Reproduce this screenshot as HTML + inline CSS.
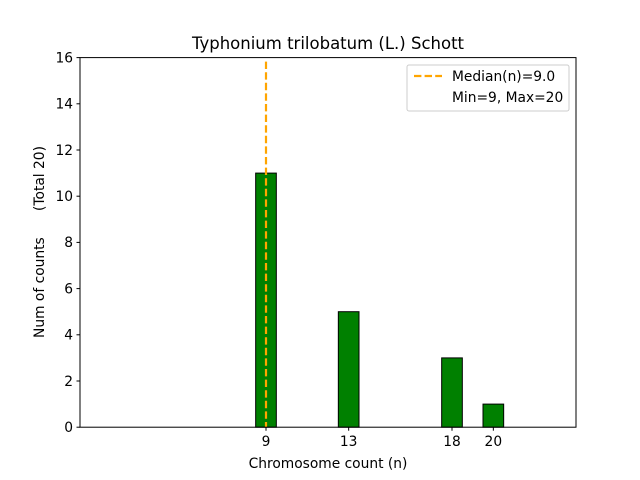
<!DOCTYPE html>
<html><head><meta charset="utf-8"><style>
body{margin:0;background:#fff}
svg{display:block;font-family:"DejaVu Sans","Liberation Sans",sans-serif}
</style></head><body>
<svg id="chart" width="640" height="480" viewBox="0 0 640 480">
<rect width="640" height="480" fill="#fff"/>
<text x="328" y="49" font-size="16.5" text-anchor="middle">Typhonium trilobatum (L.) Schott</text>
<g id="bars"></g>
<g id="yticks"></g>
<g id="xticks"></g>
<line id="median" stroke="orange" stroke-width="2.2" stroke-dasharray="7.4,3.2"/>
<rect x="80" y="57.6" width="496" height="369.6" fill="none" stroke="#000" stroke-width="1"/>
<text x="328" y="468" font-size="13.8" text-anchor="middle">Chromosome count (n)</text>
<text transform="translate(44,242) rotate(-90)" font-size="13.8" text-anchor="middle" xml:space="preserve">Num of counts      (Total 20)</text>
<g>
<rect x="407" y="65" width="162" height="46" rx="2" fill="#fff" stroke="#ccc"/>
<line x1="414" y1="76" x2="442" y2="76" stroke="orange" stroke-width="2.2" stroke-dasharray="7.4,3.2"/>
<text x="452" y="81" font-size="13.8">Median(n)=9.0</text>
<text x="452" y="102" font-size="13.8">Min=9, Max=20</text>
</g>
</svg>
<script>
const categories=[9,13,18,20];
const counts=[11,5,3,1];
const yTicks=[0,2,4,6,8,10,12,14,16];
const medianValue=9;
const NS="http://www.w3.org/2000/svg";
const L=80,R=576,T=57.6,B=427.2;
const xs=v=>L+(v-0)/(24-0)*(R-L);
const ys=v=>B-(v/16)*(B-T);
function mk(t,a,p){const e=document.createElementNS(NS,t);for(const k in a)e.setAttribute(k,a[k]);p.appendChild(e);return e;}
const bars=document.getElementById('bars');
categories.forEach((c,i)=>{
 const r=mk('rect',{x:xs(c-0.5),y:ys(counts[i]),width:xs(c+0.5)-xs(c-0.5),height:B-ys(counts[i]),fill:'green',stroke:'#000','stroke-width':1},bars);
 
 
});
const yt=document.getElementById('yticks');
yTicks.forEach(v=>{
 const y=ys(v);
 const l=mk('line',{x1:L-3.5,x2:L,y1:y,y2:y,stroke:'#000'},yt);
 
 
 const t=mk('text',{x:L-7,y:y+4.8,'font-size':13.8,'text-anchor':'end'},yt);
 t.textContent=v;
 
 
});
const xt=document.getElementById('xticks');
categories.forEach(v=>{
 const x=xs(v);
 const l=mk('line',{x1:x,x2:x,y1:B,y2:B+3.5,stroke:'#000'},xt);
 
 
 const t=mk('text',{x:x,y:B+19,'font-size':13.8,'text-anchor':'middle'},xt);
 t.textContent=v;
 
 
});
const m=document.getElementById('median');
m.setAttribute('x1',xs(medianValue));m.setAttribute('x2',xs(medianValue));
m.setAttribute('y1',T+4);m.setAttribute('y2',B);
</script>
</body></html>
